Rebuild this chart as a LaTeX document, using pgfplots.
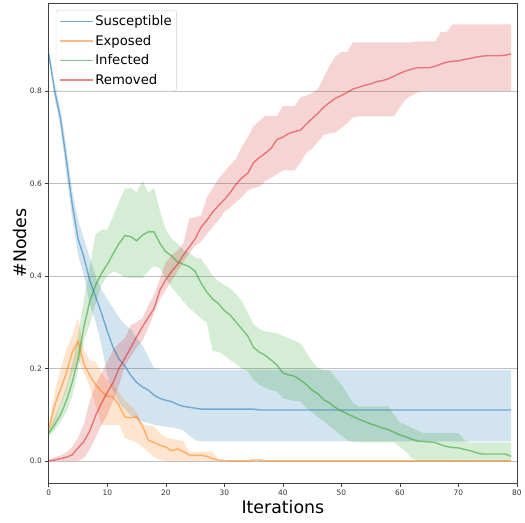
\documentclass[border=0pt]{standalone}
\usepackage{fontspec}
\setmainfont{DejaVu Sans}
\usepackage{pgfplots}
\usepackage{pgfplotstable}
\pgfplotsset{compat=1.18}
\usepgfplotslibrary{fillbetween}
\definecolor{C0}{HTML}{1F77B4}
\definecolor{C1}{HTML}{FF7F0E}
\definecolor{C2}{HTML}{2CA02C}
\definecolor{C3}{HTML}{D62728}
\definecolor{L0}{HTML}{7FAACF}
\definecolor{L1}{HTML}{F9BC85}
\definecolor{L2}{HTML}{8CC98C}
\definecolor{L3}{HTML}{E5898A}
\pgfplotstableread{
x sm sl sh em el eh im il ih rm rl rh
0 0.880 0.870 0.890 0.070 0.060 0.075 0.060 0.055 0.070 0.000 0.000 0.003
1 0.800 0.785 0.815 0.120 0.080 0.150 0.078 0.065 0.095 0.002 0.000 0.008
2 0.740 0.720 0.760 0.155 0.120 0.200 0.100 0.085 0.125 0.005 0.000 0.012
3 0.650 0.620 0.680 0.190 0.150 0.240 0.130 0.105 0.160 0.008 0.000 0.018
4 0.555 0.525 0.585 0.235 0.190 0.270 0.170 0.140 0.210 0.013 0.000 0.030
5 0.480 0.445 0.520 0.258 0.220 0.310 0.220 0.195 0.270 0.028 0.000 0.050
6 0.440 0.400 0.480 0.210 0.190 0.240 0.290 0.260 0.350 0.042 0.006 0.080
7 0.390 0.340 0.440 0.185 0.160 0.218 0.345 0.295 0.420 0.065 0.025 0.130
8 0.355 0.300 0.400 0.165 0.120 0.215 0.380 0.340 0.490 0.098 0.050 0.165
9 0.320 0.250 0.370 0.150 0.078 0.190 0.405 0.380 0.500 0.125 0.078 0.190
10 0.280 0.185 0.350 0.140 0.078 0.175 0.425 0.400 0.500 0.148 0.100 0.215
11 0.245 0.150 0.330 0.138 0.078 0.165 0.448 0.410 0.530 0.170 0.130 0.240
12 0.220 0.125 0.310 0.120 0.078 0.150 0.470 0.405 0.560 0.200 0.164 0.255
13 0.205 0.112 0.295 0.095 0.050 0.130 0.487 0.397 0.588 0.222 0.205 0.265
14 0.185 0.098 0.285 0.093 0.045 0.120 0.485 0.395 0.590 0.245 0.225 0.293
15 0.170 0.090 0.265 0.096 0.040 0.105 0.476 0.395 0.580 0.268 0.245 0.300
16 0.160 0.085 0.250 0.075 0.030 0.080 0.488 0.395 0.605 0.290 0.260 0.308
17 0.153 0.082 0.225 0.045 0.020 0.076 0.495 0.410 0.580 0.310 0.287 0.336
18 0.142 0.078 0.200 0.040 0.008 0.075 0.495 0.422 0.590 0.330 0.320 0.360
19 0.135 0.076 0.197 0.034 0.003 0.060 0.470 0.416 0.540 0.370 0.350 0.394
20 0.131 0.074 0.197 0.030 0.000 0.050 0.452 0.395 0.500 0.392 0.370 0.430
21 0.128 0.072 0.197 0.022 0.000 0.048 0.443 0.375 0.480 0.410 0.390 0.445
22 0.122 0.070 0.197 0.026 0.000 0.045 0.430 0.360 0.470 0.425 0.410 0.455
23 0.118 0.066 0.197 0.020 0.000 0.043 0.425 0.345 0.455 0.445 0.430 0.470
24 0.116 0.055 0.197 0.013 0.000 0.020 0.420 0.330 0.450 0.462 0.448 0.524
25 0.114 0.045 0.197 0.012 0.000 0.020 0.410 0.320 0.440 0.480 0.465 0.527
26 0.112 0.042 0.197 0.012 0.000 0.020 0.385 0.308 0.437 0.505 0.474 0.530
27 0.112 0.042 0.197 0.010 0.000 0.020 0.365 0.300 0.420 0.520 0.490 0.570
28 0.112 0.042 0.197 0.005 0.000 0.020 0.350 0.237 0.400 0.538 0.506 0.590
29 0.112 0.042 0.197 0.002 0.000 0.002 0.340 0.236 0.388 0.552 0.520 0.610
30 0.112 0.042 0.197 0.001 0.000 0.001 0.325 0.228 0.380 0.565 0.539 0.625
31 0.112 0.042 0.197 0.000 0.000 0.000 0.315 0.218 0.373 0.580 0.548 0.640
32 0.112 0.042 0.197 0.000 0.000 0.000 0.300 0.210 0.360 0.598 0.560 0.653
33 0.112 0.042 0.197 0.000 0.000 0.000 0.285 0.200 0.345 0.612 0.570 0.680
34 0.112 0.042 0.197 0.000 0.000 0.000 0.270 0.194 0.320 0.622 0.585 0.700
35 0.112 0.042 0.197 0.002 0.000 0.003 0.245 0.175 0.295 0.645 0.590 0.724
36 0.110 0.042 0.197 0.002 0.000 0.003 0.235 0.164 0.285 0.656 0.593 0.735
37 0.110 0.042 0.197 0.000 0.000 0.000 0.228 0.158 0.280 0.665 0.605 0.746
38 0.110 0.042 0.197 0.000 0.000 0.000 0.218 0.153 0.278 0.676 0.612 0.746
39 0.110 0.042 0.197 0.000 0.000 0.000 0.207 0.150 0.276 0.695 0.620 0.746
40 0.110 0.042 0.197 0.000 0.000 0.000 0.190 0.136 0.270 0.700 0.628 0.767
41 0.110 0.042 0.197 0.000 0.000 0.000 0.186 0.132 0.265 0.708 0.628 0.767
42 0.110 0.042 0.197 0.000 0.000 0.000 0.183 0.130 0.260 0.712 0.628 0.767
43 0.110 0.042 0.197 0.000 0.000 0.000 0.175 0.129 0.254 0.715 0.645 0.786
44 0.110 0.042 0.197 0.000 0.000 0.000 0.165 0.115 0.235 0.728 0.666 0.790
45 0.110 0.042 0.197 0.000 0.000 0.000 0.153 0.105 0.215 0.740 0.675 0.795
46 0.110 0.042 0.197 0.000 0.000 0.000 0.145 0.095 0.200 0.752 0.690 0.804
47 0.110 0.042 0.197 0.000 0.000 0.000 0.132 0.085 0.196 0.765 0.705 0.830
48 0.110 0.042 0.197 0.000 0.000 0.000 0.125 0.075 0.196 0.775 0.708 0.855
49 0.110 0.042 0.197 0.000 0.000 0.000 0.115 0.065 0.180 0.784 0.710 0.875
50 0.110 0.042 0.197 0.000 0.000 0.000 0.108 0.055 0.165 0.790 0.720 0.884
51 0.110 0.042 0.197 0.000 0.000 0.000 0.102 0.045 0.145 0.797 0.730 0.884
52 0.110 0.042 0.197 0.000 0.000 0.000 0.096 0.041 0.125 0.804 0.743 0.905
53 0.110 0.042 0.197 0.000 0.000 0.000 0.090 0.040 0.118 0.808 0.745 0.905
54 0.110 0.042 0.197 0.000 0.000 0.000 0.085 0.040 0.118 0.812 0.745 0.905
55 0.110 0.042 0.197 0.000 0.000 0.000 0.080 0.040 0.118 0.815 0.745 0.905
56 0.110 0.042 0.197 0.000 0.000 0.000 0.076 0.040 0.118 0.820 0.745 0.905
57 0.110 0.042 0.197 0.000 0.000 0.000 0.071 0.040 0.118 0.822 0.745 0.905
58 0.110 0.042 0.197 0.000 0.000 0.000 0.068 0.040 0.118 0.826 0.745 0.905
59 0.110 0.042 0.197 0.000 0.000 0.000 0.062 0.040 0.100 0.832 0.745 0.905
60 0.110 0.042 0.197 0.000 0.000 0.000 0.056 0.030 0.082 0.838 0.765 0.905
61 0.110 0.042 0.197 0.000 0.000 0.000 0.052 0.020 0.078 0.843 0.782 0.905
62 0.110 0.042 0.197 0.000 0.000 0.000 0.047 0.006 0.072 0.847 0.790 0.905
63 0.110 0.042 0.197 0.000 0.000 0.000 0.043 0.000 0.066 0.850 0.797 0.907
64 0.110 0.042 0.197 0.000 0.000 0.000 0.042 0.000 0.060 0.850 0.800 0.907
65 0.110 0.042 0.197 0.000 0.000 0.000 0.041 0.000 0.060 0.850 0.800 0.907
66 0.110 0.042 0.197 0.000 0.000 0.000 0.040 0.000 0.060 0.853 0.800 0.907
67 0.110 0.042 0.197 0.000 0.000 0.000 0.035 0.000 0.060 0.858 0.800 0.927
68 0.110 0.042 0.197 0.000 0.000 0.000 0.031 0.000 0.060 0.862 0.800 0.927
69 0.110 0.042 0.197 0.000 0.000 0.000 0.029 0.000 0.060 0.864 0.800 0.944
70 0.110 0.042 0.197 0.000 0.000 0.000 0.028 0.000 0.060 0.865 0.800 0.944
71 0.110 0.042 0.197 0.000 0.000 0.000 0.025 0.000 0.045 0.868 0.800 0.944
72 0.110 0.042 0.197 0.000 0.000 0.000 0.022 0.000 0.040 0.870 0.800 0.944
73 0.110 0.042 0.197 0.000 0.000 0.000 0.018 0.000 0.040 0.873 0.800 0.944
74 0.110 0.042 0.197 0.000 0.000 0.000 0.015 0.000 0.040 0.875 0.800 0.944
75 0.110 0.042 0.197 0.000 0.000 0.000 0.015 0.000 0.040 0.876 0.800 0.944
76 0.110 0.042 0.197 0.000 0.000 0.000 0.015 0.000 0.040 0.876 0.800 0.944
77 0.110 0.042 0.197 0.000 0.000 0.000 0.015 0.000 0.040 0.876 0.800 0.944
78 0.110 0.042 0.197 0.000 0.000 0.000 0.015 0.000 0.040 0.877 0.800 0.944
79 0.110 0.042 0.197 0.000 0.000 0.000 0.010 0.000 0.040 0.880 0.800 0.944
}\data
\begin{document}
\begin{tikzpicture}
\begin{axis}[
  scale only axis, width=470bp, height=482bp,
  xmin=0, xmax=80, ymin=-0.048, ymax=0.99,
  xtick={0,10,...,80}, ytick={0,0.2,0.4,0.6,0.8},
  yticklabel style={/pgf/number format/.cd, fixed, fixed zerofill, precision=1},
  /pgf/number format/assume math mode=true,
  tick label style={font=\fontsize{7.5}{9}\selectfont, text=black!80},
  ymajorgrids, grid style={black!25, line width=0.7pt},
  axis line style={black!75, line width=0.8pt},
  major tick style={black!75, line width=0.7pt},
  tick align=outside, major tick length=3.5bp,
  xtick pos=bottom, ytick pos=left,
  xlabel={Iterations}, ylabel={\#Nodes},
  label style={font=\fontsize{17.5}{20}\selectfont},
  xlabel style={yshift=2bp},
  ylabel style={yshift=-4bp},
  legend style={at={(0,1)}, anchor=north west, xshift=7bp, yshift=-7bp,
    draw=black!18, rounded corners=2.5pt, font=\fontsize{13.3}{15}\selectfont,
    row sep=4bp, inner xsep=3bp, inner ysep=3.5bp},
  legend cell align=left,
  legend image code/.code={\path (0bp,0bp) -- (33bp,0bp);\draw[#1] (0bp,0bp) -- (27bp,0bp);},
]
\addlegendimage{L0, line width=1.5pt}
\addlegendentry{Susceptible}
\addlegendimage{L1, line width=1.5pt}
\addlegendentry{Exposed}
\addlegendimage{L2, line width=1.5pt}
\addlegendentry{Infected}
\addlegendimage{L3, line width=1.5pt}
\addlegendentry{Removed}
% susceptible
\addplot[name path=sl, draw=none, forget plot] table[x=x, y=sl]{\data};
\addplot[name path=sh, draw=none, forget plot] table[x=x, y=sh]{\data};
\addplot[C0, fill opacity=0.2, draw=none, forget plot] fill between[of=sl and sh];
% exposed
\addplot[name path=el, draw=none, forget plot] table[x=x, y=el]{\data};
\addplot[name path=eh, draw=none, forget plot] table[x=x, y=eh]{\data};
\addplot[C1, fill opacity=0.2, draw=none, forget plot] fill between[of=el and eh];
% infected
\addplot[name path=il, draw=none, forget plot] table[x=x, y=il]{\data};
\addplot[name path=ih, draw=none, forget plot] table[x=x, y=ih]{\data};
\addplot[C2, fill opacity=0.2, draw=none, forget plot] fill between[of=il and ih];
% removed
\addplot[name path=rl, draw=none, forget plot] table[x=x, y=rl]{\data};
\addplot[name path=rh, draw=none, forget plot] table[x=x, y=rh]{\data};
\addplot[C3, fill opacity=0.2, draw=none, forget plot] fill between[of=rl and rh];
% means
\addplot[C0, draw opacity=0.55, line width=1.4pt, mark=none, forget plot] table[x=x, y=sm]{\data};
\addplot[C1, draw opacity=0.55, line width=1.4pt, mark=none, forget plot] table[x=x, y=em]{\data};
\addplot[C2, draw opacity=0.55, line width=1.4pt, mark=none, forget plot] table[x=x, y=im]{\data};
\addplot[C3, draw opacity=0.55, line width=1.4pt, mark=none, forget plot] table[x=x, y=rm]{\data};
\end{axis}
\path[use as bounding box] (-49bp,-40bp) rectangle (472bp,485bp);
\end{tikzpicture}
\end{document}
